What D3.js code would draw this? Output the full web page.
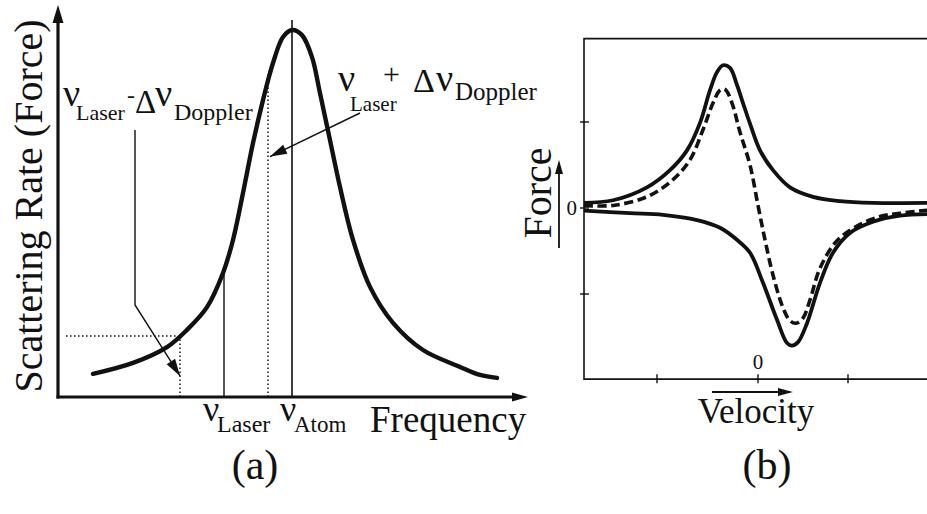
<!DOCTYPE html>
<html>
<head>
<meta charset="utf-8">
<script src="https://cdn.jsdelivr.net/npm/d3@7/dist/d3.min.js"></script>
<style>
  html, body { margin: 0; padding: 0; background: #fff; }
  svg { display: block; }
  svg text, svg tspan { font-family: "Liberation Serif", "DejaVu Serif", serif !important; }
</style>
</head>
<body>
<svg id="chart" width="927" height="514"></svg>
<script>
// ---- Panel (a): scattering rate vs laser frequency (detuning in linewidths) ----
const freq = [-3.98, -3.18, -2.5, -2.1, -1.7, -1.38, -1.18, -0.98, -0.78, -0.58, -0.38, -0.18, 0,
              0.2, 0.4, 0.56, 0.76, 0.96, 1.22, 1.56, 2.02, 2.62, 3.36, 3.76, 4.1];
const rate = [0.063, 0.093, 0.136, 0.183, 0.245, 0.338, 0.428, 0.556, 0.692, 0.809, 0.91, 0.981, 1.0,
              0.986, 0.926, 0.828, 0.70, 0.572, 0.428, 0.30, 0.202, 0.128, 0.082, 0.06, 0.052];
const nuAtom = 0;
const nuLaser = -1.36;
const dopplerShift = 0.88;

// ---- Panel (b): force vs velocity ----
const velUp = [-1.74, -1.45, -1.11, -0.88, -0.71, -0.58, -0.48, -0.41, -0.35, -0.28, -0.21, -0.15, -0.08,
               0.02, 0.15, 0.32, 0.55, 0.82, 1.15, 1.75];
const forceUp = [0.06, 0.09, 0.24, 0.44, 0.67, 0.99, 1.37, 1.58, 1.66, 1.63, 1.43, 1.22, 0.98,
                 0.67, 0.44, 0.24, 0.13, 0.08, 0.06, 0.06];
const velDown = [-1.74, -1.28, -0.95, -0.61, -0.38, -0.21, -0.08, 0.05, 0.19, 0.29, 0.34, 0.40, 0.49,
                 0.62, 0.75, 0.92, 1.15, 1.42, 1.75];
const forceDown = [-0.03, -0.06, -0.08, -0.14, -0.23, -0.37, -0.52, -0.87, -1.30, -1.57, -1.60, -1.56, -1.34,
                   -0.87, -0.52, -0.29, -0.16, -0.09, -0.07];
const velSum = [-1.74, -1.45, -1.11, -0.85, -0.68, -0.55, -0.45, -0.38, -0.33, -0.26, -0.18, -0.08, 0.0,
                0.07, 0.15, 0.25, 0.32, 0.38, 0.45, 0.52, 0.62, 0.79, 0.99, 1.22, 1.42, 1.75];
const forceSum = [0.03, 0.03, 0.13, 0.33, 0.56, 0.91, 1.22, 1.37, 1.38, 1.22, 0.88, 0.50, 0.03,
                  -0.37, -0.78, -1.16, -1.31, -1.34, -1.28, -1.07, -0.70, -0.38, -0.21, -0.10, -0.06, -0.02];
const velTicks = [-1.01, 0, 0.90];
const forceTicks = [-1, 0, 1];

const serif = "Liberation Serif, DejaVu Serif, serif";
const svg = d3.select("#chart");
const ink = "#111";

function arrowHead(g, x1, y1, x2, y2, len, half) {
  // filled triangle at (x2,y2) pointing along the segment direction
  const a = Math.atan2(y2 - y1, x2 - x1);
  const bx = x2 - len * Math.cos(a), by = y2 - len * Math.sin(a);
  const px = -Math.sin(a) * half, py = Math.cos(a) * half;
  g.append("path")
    .attr("d", `M${x2},${y2}L${bx + px},${by + py}L${bx - px},${by - py}Z`)
    .attr("fill", ink);
}

// one text element made of absolutely placed pieces: [string, x, y, size]
function composite(g, pieces) {
  const t = g.append("text").style("font-family", serif).attr("fill", ink);
  pieces.forEach(([s, x, y, size]) => {
    t.append("tspan").attr("x", x).attr("y", y).style("font-size", size + "px").text(s);
  });
  return t;
}
function label(g, s, x, y, size, anchor) {
  return g.append("text").attr("x", x).attr("y", y).style("font-size", size + "px")
    .style("font-family", serif).attr("fill", ink).attr("text-anchor", anchor || "start").text(s);
}

// ================= Panel (a) =================
const xF = d3.scaleLinear().domain([-4.68, 4.72]).range([58, 528]);
const yF = d3.scaleLinear().domain([0, 1]).range([397, 30]);
const ga = svg.append("g");

const curvePts = freq.map((f, i) => [f, rate[i]]);
const rateAt = f => {
  const i = d3.bisector(d => d[0]).left(curvePts, f);
  const p0 = curvePts[Math.max(0, i - 1)], p1 = curvePts[Math.min(curvePts.length - 1, i)];
  if (p1[0] === p0[0]) return p0[1];
  return p0[1] + (p1[1] - p0[1]) * (f - p0[0]) / (p1[0] - p0[0]);
};

// marker lines
const lo = nuLaser - dopplerShift, hi = nuLaser + dopplerShift;
ga.append("line").attr("x1", xF(nuAtom)).attr("x2", xF(nuAtom))
  .attr("y1", yF(0)).attr("y2", yF(1.027)).attr("stroke", ink).attr("stroke-width", 1.6);
ga.append("line").attr("x1", xF(nuLaser)).attr("x2", xF(nuLaser))
  .attr("y1", yF(0)).attr("y2", yF(rateAt(nuLaser))).attr("stroke", ink).attr("stroke-width", 1.4);
ga.append("line").attr("x1", xF(hi)).attr("x2", xF(hi))
  .attr("y1", yF(0)).attr("y2", yF(rateAt(hi))).attr("stroke", ink).attr("stroke-width", 1.5)
  .attr("stroke-dasharray", "1.5,2.5");
ga.append("line").attr("x1", xF(lo)).attr("x2", xF(lo))
  .attr("y1", yF(0)).attr("y2", yF(rateAt(lo))).attr("stroke", ink).attr("stroke-width", 1.5)
  .attr("stroke-dasharray", "1.5,2.5");
ga.append("line").attr("x1", xF(-4.52)).attr("x2", xF(lo))
  .attr("y1", yF(rateAt(lo))).attr("y2", yF(rateAt(lo))).attr("stroke", ink).attr("stroke-width", 1.5)
  .attr("stroke-dasharray", "1.5,2.5");

// resonance curve
ga.append("path").datum(curvePts)
  .attr("d", d3.line().x(d => xF(d[0])).y(d => yF(d[1])).curve(d3.curveCatmullRom.alpha(0.5)))
  .attr("fill", "none").attr("stroke", ink).attr("stroke-width", 4.4).attr("stroke-linecap", "round");

// axes with arrows
ga.append("line").attr("x1", xF(-4.68)).attr("x2", xF(-4.68)).attr("y1", yF(0) + 1.5).attr("y2", yF(1.03))
  .attr("stroke", ink).attr("stroke-width", 3.2);
arrowHead(ga, xF(-4.68), yF(0), xF(-4.68), yF(1.068), 18, 5.5);
ga.append("line").attr("x1", xF(-4.68) - 1.5).attr("x2", xF(4.5)).attr("y1", yF(0)).attr("y2", yF(0))
  .attr("stroke", ink).attr("stroke-width", 3.2);
arrowHead(ga, xF(-4.68), yF(0), xF(4.72), yF(0), 16, 4.5);

ga.append("text").attr("transform", `translate(42,206) rotate(-90)`)
  .style("font-family", serif).attr("fill", ink)
  .attr("text-anchor", "middle").style("font-size", "40px").text("Scattering Rate (Force)");
label(ga, "Frequency", 370, 432, 37);

// tick labels under the axis
composite(ga, [["ν", xF(nuLaser) - 21, 421, 36], ["Laser", xF(nuLaser) - 7, 432, 24]]);
composite(ga, [["ν", xF(nuAtom) - 12, 421, 36], ["Atom", xF(nuAtom) + 2, 432, 23]]);

// annotation: ν_Laser − Δν_Doppler
composite(ga, [["ν", 63, 106, 38], ["Laser", 76, 120, 22], ["-", 127, 103, 24],
               ["Δ", 135, 113, 33], ["ν", 155, 106, 38], ["Doppler", 174, 120, 24]]);
const tipLo = [xF(lo), yF(rateAt(lo)) + 40];
ga.append("path").attr("d", `M135,130L135,305L${tipLo[0]},${tipLo[1]}`)
  .attr("fill", "none").attr("stroke", ink).attr("stroke-width", 1.4);
arrowHead(ga, 135, 305, tipLo[0], tipLo[1], 17, 5);

// annotation: ν_Laser + Δν_Doppler
composite(ga, [["ν", 338, 91, 38], ["Laser", 350, 111, 21], ["+", 383, 84, 30],
               ["Δ", 413, 92, 34], ["ν", 436, 91, 38], ["Doppler", 455, 100, 25]]);
const tipHi = [xF(hi) + 2, yF(rateAt(hi)) + 75];
ga.append("line").attr("x1", 360).attr("y1", 113).attr("x2", tipHi[0]).attr("y2", tipHi[1])
  .attr("stroke", ink).attr("stroke-width", 1.4);
arrowHead(ga, 360, 113, tipHi[0], tipHi[1], 17, 5);

label(ga, "(a)", 255, 479, 42, "middle");

// ================= Panel (b) =================
const xV = d3.scaleLinear().domain([-1.74, 1.85]).range([584, 943]);
const yV = d3.scaleLinear().domain([-2, 2]).range([380, 36]);
const gb = svg.append("g");

// frame (left, top, bottom)
gb.append("path")
  .attr("d", `M${xV(1.85)},${yV(1.97)}L${xV(-1.74)},${yV(1.97)}L${xV(-1.74)},${yV(-1.99)}L${xV(1.85)},${yV(-1.99)}`)
  .attr("fill", "none").attr("stroke", ink).attr("stroke-width", 1.6);
gb.selectAll(".ytick").data(forceTicks).join("line")
  .attr("x1", xV(-1.74) - 4).attr("x2", xV(-1.74) + 5)
  .attr("y1", d => yV(d)).attr("y2", d => yV(d)).attr("stroke", ink).attr("stroke-width", 1.4);
gb.selectAll(".xtick").data(velTicks).join("line")
  .attr("x1", d => xV(d)).attr("x2", d => xV(d))
  .attr("y1", yV(-1.99) - 5).attr("y2", yV(-1.99) + 4).attr("stroke", ink).attr("stroke-width", 1.4);
label(gb, "0", xV(-1.74) - 7, yV(0) + 7, 21, "end");
label(gb, "0", xV(0), yV(-1.99) - 10, 21, "middle");

const lineV = d3.line().x(d => xV(d[0])).y(d => yV(d[1])).curve(d3.curveCatmullRom.alpha(0.5));
gb.append("path").datum(velUp.map((v, i) => [v, forceUp[i]])).attr("d", lineV)
  .attr("fill", "none").attr("stroke", ink).attr("stroke-width", 3.8);
gb.append("path").datum(velDown.map((v, i) => [v, forceDown[i]])).attr("d", lineV)
  .attr("fill", "none").attr("stroke", ink).attr("stroke-width", 3.8);
gb.append("path").datum(velSum.map((v, i) => [v, forceSum[i]])).attr("d", lineV)
  .attr("fill", "none").attr("stroke", ink).attr("stroke-width", 3.6).attr("stroke-dasharray", "9,4.5");

// axis titles with arrows
gb.append("text").attr("transform", `translate(551,193) rotate(-90)`)
  .style("font-family", serif).attr("fill", ink)
  .attr("text-anchor", "middle").style("font-size", "40px").text("Force");
gb.append("line").attr("x1", 559).attr("x2", 559).attr("y1", 248).attr("y2", 170)
  .attr("stroke", ink).attr("stroke-width", 1.8);
arrowHead(gb, 559, 248, 559, 160, 14, 4);
label(gb, "Velocity", 756, 423, 35, "middle");
gb.append("line").attr("x1", 712).attr("x2", 782).attr("y1", 392).attr("y2", 392)
  .attr("stroke", ink).attr("stroke-width", 1.8);
arrowHead(gb, 712, 392, 793, 392, 15, 4);

label(gb, "(b)", 767, 479, 42, "middle");
</script>
</body>
</html>
